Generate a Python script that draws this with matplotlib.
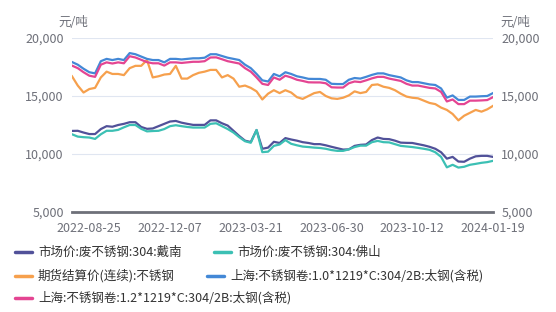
import matplotlib.pyplot as plt
from matplotlib.lines import Line2D

plt.rcParams['font.family'] = ['Noto Sans CJK SC', 'DejaVu Sans']

# weekly samples, category axis
date_labels = ['2022-08-25', '2022-12-07', '2023-03-21', '2023-06-30', '2023-10-12', '2024-01-19']
label_pos = [3, 17, 31, 45, 59, 73]

dainan = [11990, 12000, 11850, 11720, 11720, 12150, 12400, 12350, 12500, 12600,
          12740, 12740, 12330, 12170, 12200, 12400, 12600, 12800, 12850, 12700,
          12600, 12510, 12510, 12510, 12900, 12900, 12650, 12450, 12000, 11550,
          11150, 11030, 12070, 10450, 10550, 11050, 10950, 11370, 11250, 11150,
          11020, 10950, 10850, 10850, 10750, 10620, 10500, 10380, 10400, 10700,
          10790, 10820, 11200, 11420, 11300, 11280, 11150, 10980, 10960, 10950,
          10850, 10750, 10620, 10450, 10150, 9600, 9750, 9350, 9330, 9600,
          9800, 9840, 9840, 9750]
foshan = [11700, 11500, 11450, 11420, 11300, 11700, 12000, 12000, 12080, 12300,
          12500, 12500, 12170, 11950, 11980, 12000, 12150, 12400, 12480, 12400,
          12330, 12280, 12280, 12280, 12600, 12650, 12400, 12150, 11850, 11450,
          11100, 10970, 12070, 10160, 10200, 10700, 10820, 11200, 10880, 10750,
          10640, 10600, 10550, 10520, 10450, 10340, 10270, 10270, 10400, 10600,
          10720, 10720, 11020, 11130, 11020, 11000, 10850, 10700, 10650, 10600,
          10530, 10450, 10360, 10150, 9750, 8850, 9070, 8830, 8900, 9070,
          9150, 9240, 9300, 9410]
futures = [16700, 15900, 15300, 15600, 15700, 16600, 17100, 16900, 16900, 16800,
           17400, 17600, 17600, 18100, 16600, 16700, 16850, 16900, 17600, 16500,
           16500, 16800, 17000, 17100, 17250, 17250, 16600, 16800, 16500, 15800,
           15900, 15700, 15400, 14700, 15200, 15500, 15250, 15500, 15300, 14900,
           14750, 15000, 15250, 15350, 15000, 14800, 14750, 14850, 15050, 15400,
           15250, 15350, 15950, 16000, 15800, 15700, 15500, 15200, 14950, 14850,
           14800, 14600, 14400, 14300, 14000, 13800, 13450, 12900, 13300, 13550,
           13800, 13650, 13850, 14150]
coil10 = [17930, 17700, 17350, 17050, 16950, 18000, 18200, 18100, 18200, 18100,
          18700, 18600, 18400, 18200, 18100, 18100, 17900, 18200, 18200, 18150,
          18200, 18250, 18250, 18300, 18600, 18600, 18450, 18300, 18200, 18100,
          17700, 17400, 16900, 16350, 16250, 16900, 16700, 17050, 16900, 16700,
          16600, 16480, 16470, 16470, 16400, 16050, 16030, 16030, 16400, 16550,
          16500, 16650, 16820, 16950, 16950, 16800, 16700, 16600, 16350, 16200,
          16200, 16100, 16000, 15950, 15650, 14860, 15050, 14660, 14660, 14950,
          14950, 14980, 15000, 15250]
coil12 = [17620, 17400, 17050, 16750, 16650, 17700, 17900, 17800, 17900, 17820,
          18430, 18320, 18120, 17920, 17820, 17820, 17620, 17900, 17900, 17850,
          17900, 17950, 17950, 18000, 18320, 18330, 18170, 18000, 17900, 17800,
          17400, 17100, 16600, 16050, 15950, 16600, 16400, 16750, 16600, 16400,
          16300, 16180, 16170, 16170, 16100, 15750, 15730, 15730, 16100, 16250,
          16200, 16350, 16520, 16650, 16650, 16500, 16400, 16300, 16050, 15900,
          15900, 15800, 15700, 15650, 15350, 14530, 14700, 14300, 14300, 14600,
          14600, 14620, 14650, 14900]

names = ['市场价:废不锈钢:304:戴南', '市场价:废不锈钢:304:佛山', '期货结算价(连续):不锈钢',
         '上海:不锈钢卷:1.0*1219*C:304/2B:太钢(含税)', '上海:不锈钢卷:1.2*1219*C:304/2B:太钢(含税)']
colors = ['#515199', '#3cc0b4', '#f6a04d', '#4388d6', '#e44592']
series = [dainan, foshan, futures, coil10, coil12]

grey = '#6e7079'
fig = plt.figure(figsize=(5.56, 3.12), dpi=100)
ax = fig.add_axes([72 / 556, 1 - 212 / 312, 421 / 556, 174 / 312])

x = list(range(len(dainan)))
for vals, c in zip(series, colors):
    ax.plot(x, vals, color=c, lw=1.6, solid_joinstyle='round')

ax.set_xlim(0, len(x) - 1)
ax.set_ylim(5000, 20000)
ax.set_yticks([5000, 10000, 15000, 20000])
ax.set_yticklabels(['5,000', '10,000', '15,000', '20,000'])
ax.set_xticks(label_pos)
ax.set_xticklabels(date_labels)
ax.grid(axis='y', color='#e0e6f1', lw=0.8)
ax.set_axisbelow(True)
for s in ['top', 'right', 'left']:
    ax.spines[s].set_visible(False)
ax.spines['bottom'].set_color(grey)
ax.spines['bottom'].set_linewidth(2)
ax.tick_params(axis='both', length=0, colors=grey, labelsize=9)
ax.tick_params(axis='x', pad=7)
ax.tick_params(axis='y', pad=6)

ax2 = ax.twinx()
ax2.set_ylim(5000, 20000)
ax2.set_yticks([5000, 10000, 15000, 20000])
ax2.set_yticklabels(['5,000', '10,000', '15,000', '20,000'])
for s in ['top', 'right', 'left', 'bottom']:
    ax2.spines[s].set_visible(False)
ax2.tick_params(axis='y', length=0, colors=grey, labelsize=9, pad=6)

fig.text(58 / 556, 1 - 22 / 312, '元/吨', color=grey, fontsize=9, va='center')
fig.text(500 / 556, 1 - 22 / 312, '元/吨', color=grey, fontsize=9, va='center')

# legend laid out in rows like the original
leg_pos = [(15, 252), (214, 252), (15, 276), (207, 276), (15, 298)]
for (lx, ly), name, c in zip(leg_pos, names, colors):
    fig.add_artist(Line2D([lx / 556, (lx + 17) / 556], [1 - ly / 312] * 2,
                          color=c, lw=2.5, solid_capstyle='round'))
    fig.text((lx + 23) / 556, 1 - ly / 312, name, color='#333333', fontsize=9, va='center')

fig.savefig('out.png', dpi=100)
